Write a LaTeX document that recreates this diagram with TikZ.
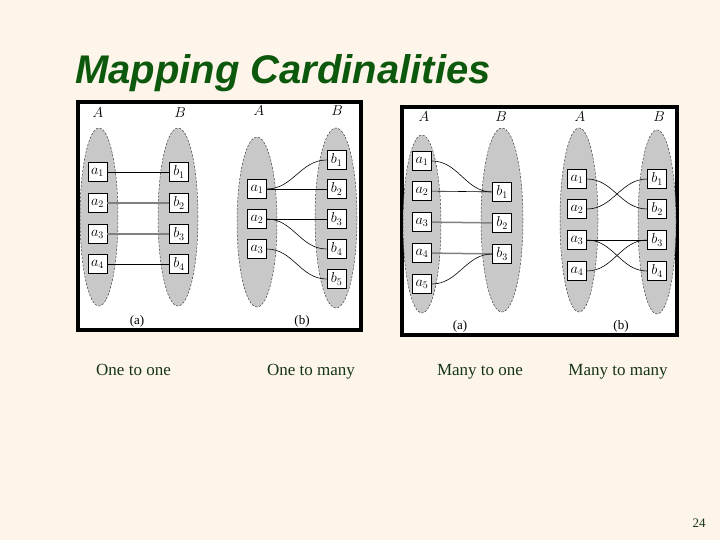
\documentclass[tikz,border=0pt]{standalone}
\usepackage{fontspec}
\setmainfont{Liberation Serif}
\newfontfamily\titlefont{Liberation Sans}
\definecolor{bg}{RGB}{253,245,233}
\definecolor{titlegreen}{RGB}{12,88,12}
\definecolor{labelgreen}{RGB}{22,52,22}
\definecolor{ellgray}{RGB}{200,200,200}
\tikzset{
  setell/.style={fill=ellgray, draw=black!75, dash pattern=on 2.2pt off 1.6pt, line width=0.5pt},
  elem/.style={draw=black, fill=white, line width=0.8pt, minimum width=19pt, minimum height=19pt, inner sep=0pt, font=\fontsize{14}{14}\selectfont},
  conn/.style={line width=0.6pt, black},
  connthick/.style={line width=1.5pt, black!50},
  setlabel/.style={inner sep=0pt, font=\fontsize{14}{14}\selectfont},
  sublabel/.style={inner sep=0pt, font=\fontsize{13}{13}\selectfont},
  caption/.style={inner sep=0pt, anchor=base, font=\fontsize{17}{17}\selectfont, text=labelgreen},
  panel/.style={draw=black, fill=white, line width=4pt}
}
\begin{document}
\begin{tikzpicture}[x=1pt,y=-1pt]
\useasboundingbox (0,0) rectangle (720,540);
\fill[bg] (0,0) rectangle (720,540);

% title
\node[anchor=base west, inner sep=0pt, text=titlegreen, font=\titlefont\bfseries\itshape\fontsize{40}{40}\selectfont] (title) at (75,84) {Mapping Cardinalities};

% panels
\draw[panel] (78,102) rectangle (361,330);
\draw[panel] (402,107) rectangle (677,335);

% ---------- left panel (a): one to one ----------
\draw[setell] (99,217) ellipse [x radius=19pt, y radius=89pt];
\draw[setell] (178,217) ellipse [x radius=20pt, y radius=89pt];
\node[setlabel] (la-A) at (98,113) {$A$};
\node[setlabel] (la-B) at (180,113) {$B$};
\node[elem] (la-a1) at (97.5,172) {$a_1$};
\node[elem] (la-a2) at (97.5,203) {$a_2$};
\node[elem] (la-a3) at (97.5,234) {$a_3$};
\node[elem] (la-a4) at (97.5,264) {$a_4$};
\node[elem] (la-b1) at (179,172) {$b_1$};
\node[elem] (la-b2) at (179,203) {$b_2$};
\node[elem] (la-b3) at (179,234) {$b_3$};
\node[elem] (la-b4) at (179,264) {$b_4$};
\draw[conn] (la-a1) -- (la-b1);
\draw[connthick] (la-a2) -- (la-b2);
\draw[connthick] (la-a3) -- (la-b3);
\draw[conn] (la-a4) -- (la-b4);
\node[sublabel] (la-cap) at (137,321) {(a)};

% ---------- left panel (b): one to many ----------
\draw[setell] (257,222) ellipse [x radius=20pt, y radius=85pt];
\draw[setell] (336,218) ellipse [x radius=21pt, y radius=90pt];
\node[setlabel] (lb-A) at (259,111) {$A$};
\node[setlabel] (lb-B) at (337,111) {$B$};
\node[elem] (lb-a1) at (257,189) {$a_1$};
\node[elem] (lb-a2) at (257,219) {$a_2$};
\node[elem] (lb-a3) at (257,249) {$a_3$};
\node[elem] (lb-b1) at (336.5,160) {$b_1$};
\node[elem] (lb-b2) at (336.5,189) {$b_2$};
\node[elem] (lb-b3) at (336.5,219) {$b_3$};
\node[elem] (lb-b4) at (336.5,249) {$b_4$};
\node[elem] (lb-b5) at (336.5,279) {$b_5$};
\draw[conn] (lb-a1.east) to[out=0,in=180] (lb-b1.west);
\draw[conn] (lb-a1) -- (lb-b2);
\draw[conn] (lb-a2) -- (lb-b3);
\draw[conn] (lb-a2.east) to[out=0,in=180] (lb-b4.west);
\draw[conn] (lb-a3.east) to[out=0,in=180] (lb-b5.west);
\node[sublabel] (lb-cap) at (302,321) {(b)};

% ---------- right panel (a): many to one ----------
\draw[setell] (422,224) ellipse [x radius=19pt, y radius=89pt];
\draw[setell] (502,220) ellipse [x radius=21pt, y radius=92pt];
\node[setlabel] (ra-A) at (424,117) {$A$};
\node[setlabel] (ra-B) at (501,117) {$B$};
\node[elem] (ra-a1) at (422,161) {$a_1$};
\node[elem] (ra-a2) at (422,191) {$a_2$};
\node[elem] (ra-a3) at (422,222) {$a_3$};
\node[elem] (ra-a4) at (422,253) {$a_4$};
\node[elem] (ra-a5) at (422,284) {$a_5$};
\node[elem] (ra-b1) at (502,192) {$b_1$};
\node[elem] (ra-b2) at (502,223) {$b_2$};
\node[elem] (ra-b3) at (502,254) {$b_3$};
\draw[conn] (ra-a1.east) to[out=0,in=180] (ra-b1.west);
\draw[conn] (ra-a2) -- (ra-b1);
\draw[connthick] (ra-a3) -- (ra-b2);
\draw[connthick] (ra-a4) -- (ra-b3);
\draw[conn] (ra-a5.east) to[out=0,in=180] (ra-b3.west);
\node[sublabel] (ra-cap) at (460,326) {(a)};

% ---------- right panel (b): many to many ----------
\draw[setell] (579,220) ellipse [x radius=19pt, y radius=92pt];
\draw[setell] (657,222) ellipse [x radius=19pt, y radius=92pt];
\node[setlabel] (rb-A) at (580,117) {$A$};
\node[setlabel] (rb-B) at (659,117) {$B$};
\node[elem] (rb-a1) at (577,179) {$a_1$};
\node[elem] (rb-a2) at (577,209) {$a_2$};
\node[elem] (rb-a3) at (577,240) {$a_3$};
\node[elem] (rb-a4) at (577,271) {$a_4$};
\node[elem] (rb-b1) at (657,179) {$b_1$};
\node[elem] (rb-b2) at (657,209) {$b_2$};
\node[elem] (rb-b3) at (657,240) {$b_3$};
\node[elem] (rb-b4) at (657,271) {$b_4$};
\draw[conn] (rb-a1.east) to[out=0,in=180] (rb-b2.west);
\draw[conn] (rb-a2.east) to[out=0,in=180] (rb-b1.west);
\draw[conn] (rb-a3) -- (rb-b3);
\draw[conn] (rb-a3.east) to[out=0,in=180] (rb-b4.west);
\draw[conn] (rb-a4.east) to[out=0,in=180] (rb-b3.west);
\node[sublabel] (rb-cap) at (621,326) {(b)};

% captions
\node[caption] (c1) at (133.5,375) {One to one};
\node[caption] (c2) at (311,375) {One to many};
\node[caption] (c3) at (480,375) {Many to one};
\node[caption] (c4) at (618,375) {Many to many};

% page number
\node[inner sep=0pt, text=labelgreen, font=\fontsize{13}{13}\selectfont] (pg) at (699,523) {24};
\end{tikzpicture}
\end{document}
